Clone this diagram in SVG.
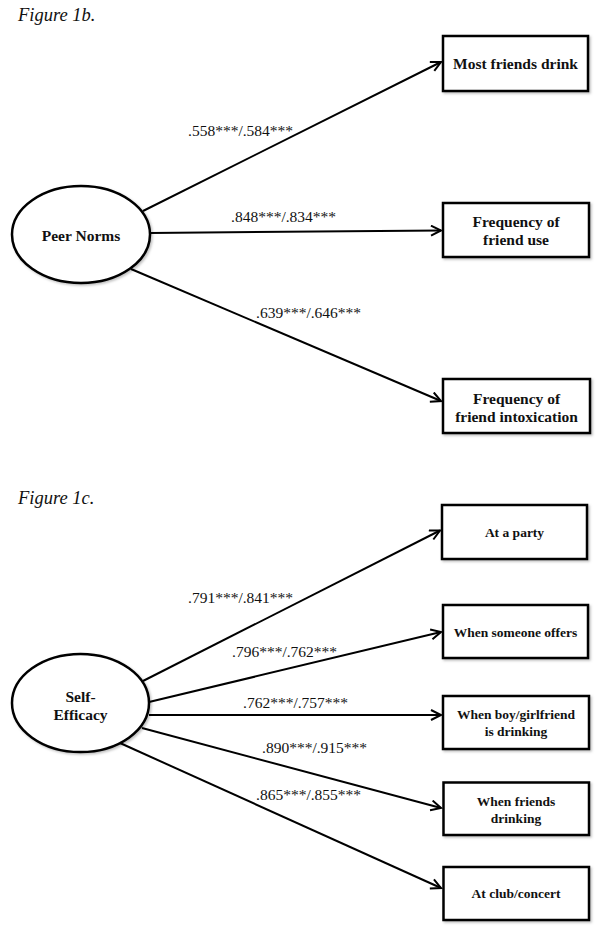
<svg xmlns="http://www.w3.org/2000/svg" width="601" height="933" viewBox="0 0 601 933">
<style>
.fig{font-family:"Liberation Serif","Times New Roman",serif;font-style:italic;font-size:18.5px;fill:#111}
.lbl{font-family:"Liberation Serif","Times New Roman",serif;font-size:15.5px;fill:#111}
.bt{font-family:"Liberation Serif","Times New Roman",serif;font-weight:bold;font-size:15.5px;fill:#111;text-anchor:middle}
.bs{font-family:"Liberation Serif","Times New Roman",serif;font-weight:bold;font-size:13.5px;fill:#111;text-anchor:middle}
.box{fill:#fff;stroke:#000;stroke-width:2.5}
.ell{fill:#fff;stroke:#000;stroke-width:2.5}
.edge{stroke:#000;stroke-width:2;fill:none}
</style>
<defs>
<marker id="arr" markerUnits="userSpaceOnUse" markerWidth="14" markerHeight="14" refX="11" refY="6" orient="auto">
<path d="M1,1 L11,6 L1,11" fill="none" stroke="#000" stroke-width="2"/>
</marker>
<filter id="sh" x="-10%" y="-10%" width="130%" height="140%">
<feDropShadow dx="1.5" dy="1.5" stdDeviation="1" flood-color="#000" flood-opacity="0.25"/>
</filter>
</defs>
<text class="fig" x="18" y="21">Figure 1b.</text>
<text class="fig" x="18" y="504">Figure 1c.</text>
<g id="connectors">
<line class="edge" x1="143" y1="211" x2="441" y2="62" marker-end="url(#arr)"/>
<line class="edge" x1="150" y1="233" x2="441" y2="230.5" marker-end="url(#arr)"/>
<line class="edge" x1="131" y1="269" x2="441" y2="401" marker-end="url(#arr)"/>
<line class="edge" x1="143" y1="681" x2="440" y2="530.5" marker-end="url(#arr)"/>
<line class="edge" x1="149" y1="702" x2="441" y2="632" marker-end="url(#arr)"/>
<line class="edge" x1="149" y1="715" x2="441" y2="715" marker-end="url(#arr)"/>
<line class="edge" x1="142" y1="728" x2="441" y2="808" marker-end="url(#arr)"/>
<line class="edge" x1="120" y1="743" x2="441" y2="888" marker-end="url(#arr)"/>
</g>
<g id="edge-labels">
<text class="lbl" x="188" y="136">.558***/.584***</text>
<text class="lbl" x="231" y="222">.848***/.834***</text>
<text class="lbl" x="256" y="318">.639***/.646***</text>
<text class="lbl" x="188" y="603">.791***/.841***</text>
<text class="lbl" x="232" y="657">.796***/.762***</text>
<text class="lbl" x="243" y="708">.762***/.757***</text>
<text class="lbl" x="262" y="753">.890***/.915***</text>
<text class="lbl" x="256" y="800">.865***/.855***</text>
</g>
<g id="peer-norms">
<ellipse class="ell" cx="81" cy="234.5" rx="69" ry="48.5" filter="url(#sh)"/>
<text class="bt" x="81" y="241">Peer Norms</text>
</g>
<g id="most-friends-drink">
<rect class="box" x="443" y="36" width="145" height="55" filter="url(#sh)"/>
<text class="bt" x="515.5" y="69">Most friends drink</text>
</g>
<g id="freq-friend-use">
<rect class="box" x="443" y="203" width="146" height="54" filter="url(#sh)"/>
<text class="bt" x="516" y="227">Frequency of</text>
<text class="bt" x="516" y="245">friend use</text>
</g>
<g id="freq-friend-intox">
<rect class="box" x="443" y="379" width="147" height="54" filter="url(#sh)"/>
<text class="bt" x="516.5" y="404">Frequency of</text>
<text class="bt" x="516.5" y="422">friend intoxication</text>
</g>
<g id="self-efficacy">
<ellipse class="ell" cx="80.5" cy="703" rx="68.5" ry="49" filter="url(#sh)"/>
<text class="bt" x="80.5" y="701.5">Self-</text>
<text class="bt" x="80.5" y="720">Efficacy</text>
</g>
<g id="at-a-party">
<rect class="box" x="442" y="505" width="145" height="54" filter="url(#sh)"/>
<text class="bs" x="514.5" y="537">At a party</text>
</g>
<g id="someone-offers">
<rect class="box" x="443" y="605" width="145" height="53" filter="url(#sh)"/>
<text class="bs" x="515.5" y="636.5">When someone offers</text>
</g>
<g id="boyfriend-drinking">
<rect class="box" x="443" y="696" width="146" height="53" filter="url(#sh)"/>
<text class="bs" x="516" y="719">When boy/girlfriend</text>
<text class="bs" x="516" y="736">is drinking</text>
</g>
<g id="friends-drinking">
<rect class="box" x="443.5" y="782.5" width="145.5" height="52.5" filter="url(#sh)"/>
<text class="bs" x="516" y="806">When friends</text>
<text class="bs" x="516" y="822.5">drinking</text>
</g>
<g id="club-concert">
<rect class="box" x="443.5" y="867" width="145.5" height="53" filter="url(#sh)"/>
<text class="bs" x="516" y="898">At club/concert</text>
</g>
</svg>
